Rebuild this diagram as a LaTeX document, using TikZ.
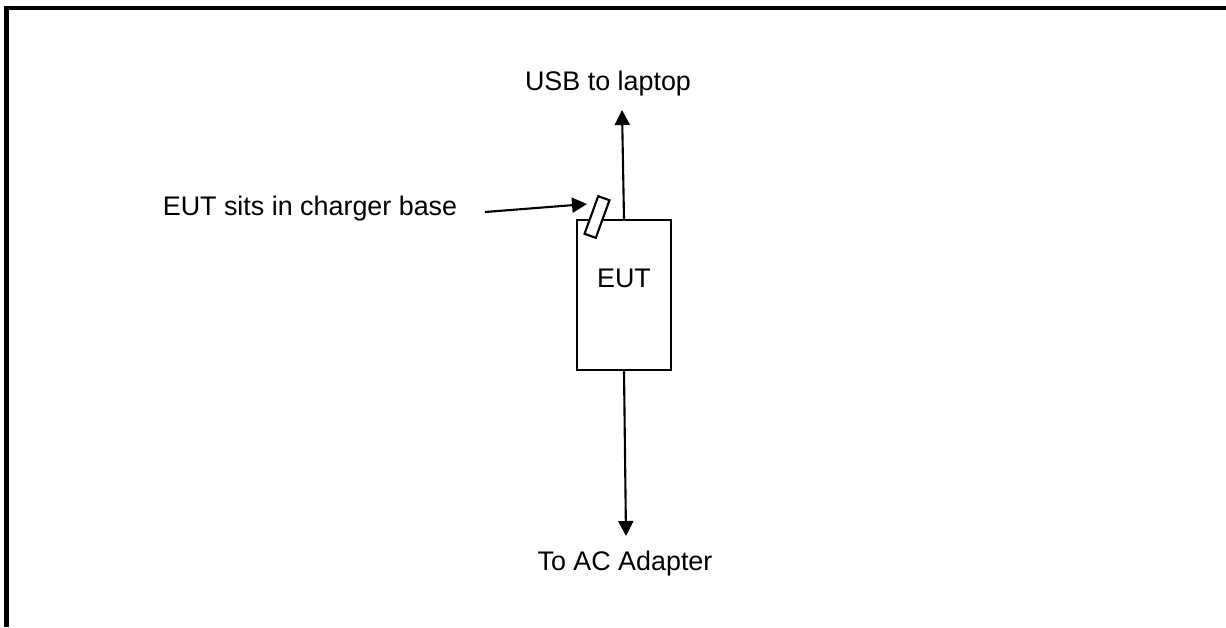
\documentclass[tikz,border=0pt]{standalone}
\usepackage{fontspec}
\setmainfont{Liberation Sans}
\usepackage{tikz}
\usetikzlibrary{arrows.meta}

\tikzset{
  lbl/.style={font=\fontsize{15.3}{18}\selectfont, inner sep=0pt, anchor=base},
  arr/.style={line width=1.2pt, -{Triangle[width=0.3cm,length=0.3cm]}},
}

\begin{document}
\begin{tikzpicture}[x=0.02cm, y=-0.02cm]
    \useasboundingbox (0,0) rectangle (1226,627);
    % Page frame (top and left only)
    \draw[line width=2.3pt] (6.5,627) -- (6.5,8) -- (1226,8);
    % Equipment under test
    \node[draw, line width=1.2pt, minimum width=1.88cm, minimum height=3cm, inner sep=0pt] (eut) at (624,295) {};
    \node[lbl] (euttext) at (624,287) {EUT};
    % Charger base holder
    \node[draw, fill=white, line width=1.2pt, minimum width=0.24cm, minimum height=0.8cm, inner sep=0pt, rotate=-20] (holder) at (597,217) {};
    % Labels
    \node[lbl] (usb) at (608,90) {USB to laptop};
    \node[lbl] (base) at (310,215) {EUT sits in charger base};
    \node[lbl] (ac) at (625,570) {To AC Adapter};
    % Connectors
    \coordinate (usbend) at (622,110);
    \coordinate (acend) at (626,536);
    \coordinate (basestart) at (485,212);
    \coordinate (baseend) at (587,204);
    \draw[arr] (eut.north) -- (usbend);
    \draw[arr] (eut.south) -- (acend);
    \draw[arr] (basestart) -- (baseend);
\end{tikzpicture}
\end{document}
